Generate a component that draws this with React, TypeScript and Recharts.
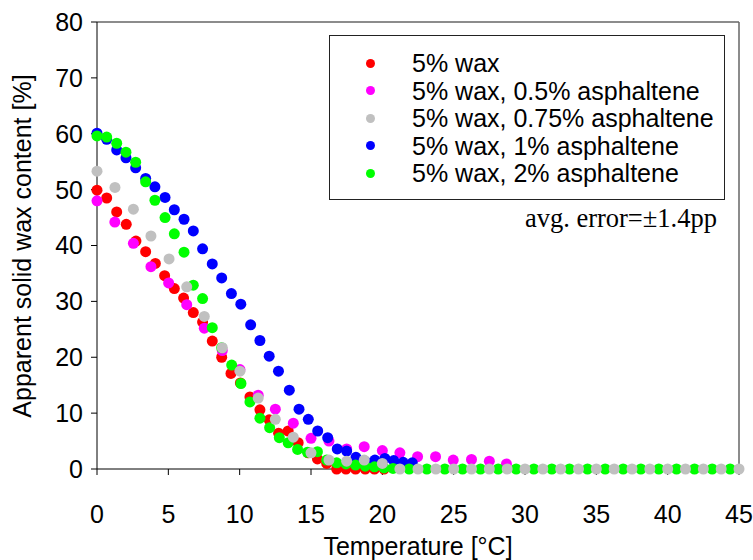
import React from 'react';
import { ScatterChart, Scatter, XAxis, YAxis, ReferenceLine } from 'recharts';

// temperatures [°C] and apparent solid wax content [%]
const redT = [0, 0.68, 1.38, 2.05, 2.73, 3.41, 4.09, 4.74, 5.42, 6.07, 6.75, 7.4, 8.08, 8.74, 9.39, 10.05, 10.72, 11.42, 12.07, 12.73, 13.4, 14.1, 14.8, 15.45, 16.1, 16.8, 17.45, 18.12, 18.8, 19.45, 20.12];
const redV = [49.9, 48.5, 46.0, 43.8, 40.8, 38.9, 36.8, 34.6, 32.3, 30.6, 28.0, 26.3, 22.9, 20.0, 17.1, 15.4, 12.9, 10.6, 8.8, 6.4, 6.8, 4.7, 2.9, 1.8, 1.0, 0, 0, 0, 0, 0, 0];

const magentaT = [0, 1.25, 2.55, 3.78, 5.02, 6.29, 7.52, 8.78, 10.02, 11.3, 12.5, 13.76, 15.0, 16.26, 17.5, 18.73, 20.0, 21.23, 22.47, 23.73, 24.97, 26.25, 27.5, 28.7];
const magentaV = [48.0, 44.2, 40.4, 36.2, 33.3, 29.4, 25.2, 21.2, 17.8, 13.2, 10.7, 8.2, 5.5, 5.0, 3.6, 4.0, 3.3, 2.9, 2.2, 2.2, 1.6, 1.7, 1.4, 0.9];

const grayT = [0, 1.26, 2.55, 3.78, 5.05, 6.29, 7.52, 8.78, 10.02, 11.3, 12.5, 13.76, 15.0, 16.26, 17.5, 18.73, 20.0, 21.23, 22.5, 23.75, 25, 26.25, 27.5, 28.75, 30, 31.25, 32.5, 33.75, 35, 36.25, 37.5, 38.75, 40, 41.25, 42.5, 43.75, 45];
const grayV = [53.3, 50.4, 46.5, 41.7, 37.6, 32.6, 27.3, 21.7, 17.5, 12.7, 8.9, 5.7, 2.9, 1.6, 1.4, 1.6, 1.0, 0, 0, 0, 0, 0, 0, 0, 0, 0, 0, 0, 0, 0, 0, 0, 0, 0, 0, 0, 0];

const blueT = [0, 0.68, 1.38, 2.03, 2.71, 3.41, 4.06, 4.77, 5.42, 6.1, 6.75, 7.4, 8.08, 8.74, 9.42, 10.08, 10.77, 11.42, 12.07, 12.72, 13.48, 14.16, 14.81, 15.47, 16.17, 16.84, 17.5, 18.15, 18.82, 19.48, 20.18, 20.8, 21.46, 22.1];
const blueV = [60.1, 59.0, 57.1, 55.7, 53.9, 52.0, 50.5, 48.6, 46.4, 44.7, 42.6, 39.4, 36.7, 34.2, 31.4, 29.5, 25.8, 23.0, 20.2, 17.5, 14.1, 10.7, 8.9, 6.8, 5.6, 3.6, 3.2, 2.1, 1.3, 1.6, 1.9, 1.5, 1.2, 1.1];

const greenT = [0, 0.68, 1.38, 2.03, 2.71, 3.41, 4.06, 4.77, 5.42, 6.1, 6.75, 7.4, 8.08, 8.74, 9.44, 10.09, 10.72, 11.42, 12.1, 12.78, 13.4, 14.06, 14.75, 15.45, 16.1, 16.8, 17.45, 18.12, 18.8, 19.45, 20.12, 20.75, 21.88, 23.12, 24.38, 25.62, 26.88, 28.12, 29.38, 30.62, 31.88, 33.12, 34.38, 35.62, 36.88, 38.12, 39.38, 40.62, 41.88, 43.12, 44.38];
const greenV = [59.6, 59.4, 58.3, 56.7, 54.9, 51.4, 48.1, 45.0, 42.1, 38.8, 32.9, 30.5, 25.3, 21.7, 18.6, 15.3, 12.0, 9.1, 7.4, 5.6, 4.7, 3.5, 3.0, 3.1, 1.6, 1.1, 0.9, 0.7, 0.5, 0.4, 0.2, 0.1, 0, 0, 0, 0, 0, 0, 0, 0, 0, 0, 0, 0, 0, 0, 0, 0, 0, 0, 0];

const xTicks = [0, 5, 10, 15, 20, 25, 30, 35, 40, 45];
const yTicks = [0, 10, 20, 30, 40, 50, 60, 70, 80];

const seriesNames = [
  '5% wax',
  '5% wax, 0.5% asphaltene',
  '5% wax, 0.75% asphaltene',
  '5% wax, 1% asphaltene',
  '5% wax, 2% asphaltene',
];
const seriesColors = ['#ff0000', '#ff00ff', '#c0c0c0', '#0000ff', '#00ff00'];

const toPoints = (t: number[], v: number[]) => t.map((x, i) => ({ x, y: v[i] }));

const series = [
  toPoints(redT, redV),
  toPoints(magentaT, magentaV),
  toPoints(grayT, grayV),
  toPoints(blueT, blueV),
  toPoints(greenT, greenV),
];

// drawing order as in the original (gray ends up on top)
const drawOrder = [0, 1, 3, 4, 2];

const sans = '"Liberation Sans", Arial, sans-serif';
const serif = '"Liberation Serif", "Times New Roman", serif';
const fs = 25;

const dot = (color: string) => (props: any) => (
  <circle cx={props.cx} cy={props.cy} r={5.5} fill={color} />
);

export default function App() {
  return (
    <div style={{ position: 'absolute', left: 0, top: 0, width: 753, height: 560, background: '#fff' }}>
      <ScatterChart width={753} height={560} margin={{ top: 22, right: 14, bottom: 0, left: 0 }}>
        <XAxis
          type="number"
          dataKey="x"
          domain={[0, 45]}
          ticks={xTicks}
          height={91}
          stroke="#000"
          tickSize={6}
          tickMargin={30}
          tick={{ fill: '#000', fontSize: fs, fontFamily: sans }}
          label={{ value: 'Temperature [°C]', position: 'insideBottom', offset: 5, fill: '#000', fontSize: fs, fontFamily: sans }}
        />
        <YAxis
          type="number"
          dataKey="y"
          domain={[0, 80]}
          ticks={yTicks}
          width={97}
          stroke="#000"
          tickSize={6}
          tickMargin={8}
          tick={{ fill: '#000', fontSize: fs, fontFamily: sans }}
          label={() => (
            <text transform="translate(31,246) rotate(-90)" textAnchor="middle" fill="#000" fontSize={fs} fontFamily={sans}>
              Apparent solid wax content [%]
            </text>
          )}
        />
        <ReferenceLine y={80} stroke="#666" strokeWidth={1.5} />
        <ReferenceLine x={45} stroke="#666" strokeWidth={1.5} />
        {drawOrder.map((i) => (
          <Scatter
            key={seriesNames[i]}
            name={seriesNames[i]}
            data={series[i]}
            fill={seriesColors[i]}
            shape={dot(seriesColors[i])}
            isAnimationActive={false}
          />
        ))}
      </ScatterChart>

      {/* legend box */}
      <div
        style={{
          position: 'absolute', left: 329, top: 35, width: 394, height: 163,
          border: '1px solid #222', background: '#fff', fontFamily: sans, fontSize: fs, color: '#000',
        }}
      >
        {seriesNames.map((name, i) => (
          <div key={name} style={{ position: 'absolute', left: 0, top: 13 + i * 27.5, height: 28, display: 'flex', alignItems: 'center' }}>
            <span style={{ position: 'absolute', left: 36, width: 9, height: 9, borderRadius: '50%', background: seriesColors[i] }} />
            <span style={{ position: 'absolute', left: 82, whiteSpace: 'nowrap', lineHeight: '28px' }}>{name}</span>
          </div>
        ))}
      </div>
      <div
        style={{
          position: 'absolute', right: 753 - 717, top: 203, fontFamily: serif, fontSize: 26.5,
          color: '#000', whiteSpace: 'nowrap', lineHeight: '30px',
        }}
      >
        avg. error=±1.4pp
      </div>
    </div>
  );
}
